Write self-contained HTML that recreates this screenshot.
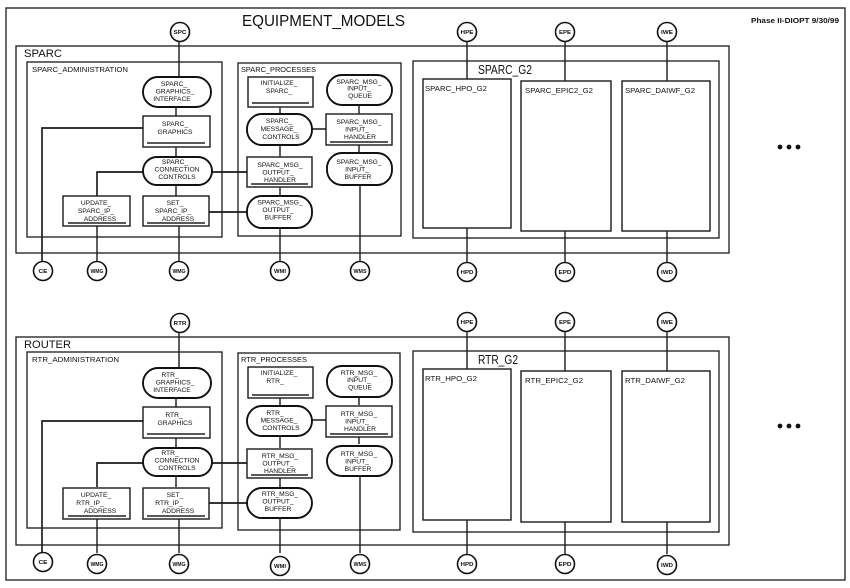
<!DOCTYPE html>
<html><head><meta charset="utf-8"><style>
html,body{margin:0;padding:0;background:#fff;}
svg{display:block;}
text{font-family:"Liberation Sans",Arial,sans-serif;fill:#111;}
.n{font-size:6.7px;text-anchor:middle;}
.c{font-size:5.8px;font-weight:bold;text-anchor:middle;}
.s{font-size:7.6px;}
.b{fill:none;stroke:#1a1a1a;stroke-width:1.3;}
.r{fill:#fff;stroke:#1a1a1a;stroke-width:1.4;}
.st{fill:#fff;stroke:#111;stroke-width:1.9;}
.l{stroke:#1a1a1a;stroke-width:1.4;fill:none;}
.sh{stroke:#222;stroke-width:1.4;}
.ci{fill:#fff;stroke:#111;stroke-width:1.6;}
</style></head><body>
<svg width="850" height="588" viewBox="0 0 850 588" xmlns="http://www.w3.org/2000/svg">
<rect x="0" y="0" width="850" height="588" fill="#fff"/>
<rect x="6" y="8" width="839" height="572" class="b"/>
<text x="242" y="26" font-size="16" textLength="163" lengthAdjust="spacingAndGlyphs">EQUIPMENT_MODELS</text>
<text x="751" y="23" font-size="7" font-weight="bold" textLength="88" lengthAdjust="spacingAndGlyphs">Phase II-DIOPT  9/30/99</text>

<!-- ================= SPARC ================= -->
<g>
<!-- connectors -->
<path class="l" d="M179 41 V77 M176 107 V116 M176 147 V157 M176 185 V196 M143 128 H42 V262 M143 172 H97 V196 M97 226 V262 M179 226 V262 M212 172 H247 M209 212 H247 M280 107 V114 M280 145 V157 M280 187 V196 M280 228 V262 M312 129 H326 M359 105 V114 M359 145 V153 M360 185 V262 M467 41 V79 M565 41 V81 M667 41 V81 M467 228 V263 M565 231 V263 M667 231 V263"/>
<rect x="16" y="46" width="713" height="207" class="b"/>
<text x="24" y="57" font-size="11" textLength="38" lengthAdjust="spacingAndGlyphs">SPARC</text>
<rect x="27" y="62" width="195" height="175" class="b"/>
<text x="32" y="72" class="s" textLength="96" lengthAdjust="spacingAndGlyphs">SPARC_ADMINISTRATION</text>
<rect x="238" y="63" width="163" height="173" class="b"/>
<text x="241" y="72" class="s" textLength="75" lengthAdjust="spacingAndGlyphs">SPARC_PROCESSES</text>
<rect x="413" y="61" width="306" height="177" class="b"/>
<text x="478" y="74" font-size="13" textLength="54" lengthAdjust="spacingAndGlyphs">SPARC_G2</text>
<rect x="423" y="79" width="88" height="149" class="r"/>
<text x="425" y="91" class="s" textLength="62" lengthAdjust="spacingAndGlyphs">SPARC_HPO_G2</text>
<rect x="521" y="81" width="90" height="150" class="r"/>
<text x="525" y="93" class="s" textLength="68" lengthAdjust="spacingAndGlyphs">SPARC_EPIC2_G2</text>
<rect x="622" y="81" width="88" height="150" class="r"/>
<text x="625" y="93" class="s" textLength="70" lengthAdjust="spacingAndGlyphs">SPARC_DAIWF_G2</text>
<path class="l" d="M212 172 H247 M209 212 H247 M143 128 H42 V262 M143 172 H97 V196"/>

<!-- nodes -->
<rect x="143" y="77" width="68" height="30" rx="15" class="st"/>
<text class="n" x="174" y="86">SPARC_</text><text class="n" x="175" y="93.5">GRAPHICS_</text><text class="n" x="172" y="101">INTERFACE</text>

<rect x="143" y="116" width="67" height="31" class="r"/>
<line class="sh" x1="147" y1="143" x2="205" y2="143"/>
<text class="n" x="175" y="126">SPARC_</text><text class="n" x="175" y="134">GRAPHICS</text>

<rect x="143" y="157" width="69" height="28" rx="14" class="st"/>
<text class="n" x="175" y="164">SPARC_</text><text class="n" x="177" y="171.5">CONNECTION</text><text class="n" x="177" y="179">CONTROLS</text>

<rect x="63" y="196" width="67" height="30" class="r"/>
<line class="sh" x1="68" y1="223" x2="126" y2="223"/>
<text class="n" x="96" y="205">UPDATE_</text><text class="n" x="96" y="213">SPARC_IP_</text><text class="n" x="100" y="221">ADDRESS</text>

<rect x="143" y="196" width="66" height="30" class="r"/>
<line class="sh" x1="147" y1="223" x2="205" y2="223"/>
<text class="n" x="175" y="205">SET_</text><text class="n" x="173" y="213">SPARC_IP_</text><text class="n" x="178" y="221">ADDRESS</text>

<rect x="248" y="77" width="65" height="30" class="r"/>
<line class="sh" x1="252" y1="103" x2="309" y2="103"/>
<text class="n" x="279" y="85">INITIALIZE_</text><text class="n" x="279" y="93">SPARC_</text>

<rect x="327" y="75" width="65" height="30" rx="15" class="st"/>
<text class="n" x="359" y="84">SPARC_MSG_</text><text class="n" x="359" y="90.5">INPUT_</text><text class="n" x="360" y="98">QUEUE</text>

<rect x="247" y="114" width="65" height="31" rx="15" class="st"/>
<text class="n" x="279" y="123">SPARC_</text><text class="n" x="279" y="131">MESSAGE_</text><text class="n" x="281" y="139">CONTROLS</text>

<rect x="326" y="114" width="66" height="31" class="r"/>
<line class="sh" x1="330" y1="142" x2="388" y2="142"/>
<text class="n" x="359" y="124">SPARC_MSG_</text><text class="n" x="357" y="131.5">INPUT_</text><text class="n" x="360" y="139">HANDLER</text>

<rect x="247" y="157" width="65" height="30" class="r"/>
<line class="sh" x1="251" y1="184" x2="308" y2="184"/>
<text class="n" x="280" y="167">SPARC_MSG_</text><text class="n" x="278" y="174.5">OUTPUT_</text><text class="n" x="280" y="182">HANDLER</text>

<rect x="327" y="153" width="65" height="32" rx="15" class="st"/>
<text class="n" x="359" y="164">SPARC_MSG_</text><text class="n" x="357" y="171.5">INPUT_</text><text class="n" x="358" y="179">BUFFER</text>

<rect x="247" y="196" width="65" height="32" rx="15" class="st"/>
<text class="n" x="280" y="204.5">SPARC_MSG_</text><text class="n" x="278" y="212">OUTPUT_</text><text class="n" x="278" y="219.5">BUFFER</text>

<!-- circles -->
<circle cx="180" cy="32" r="9.5" class="ci"/><text class="c" x="180" y="34" textLength="13" lengthAdjust="spacingAndGlyphs">SPC</text>
<circle cx="467" cy="32" r="9.5" class="ci"/><text class="c" x="467" y="34" textLength="13" lengthAdjust="spacingAndGlyphs">HPE</text>
<circle cx="565" cy="32" r="9.5" class="ci"/><text class="c" x="565" y="34" textLength="12" lengthAdjust="spacingAndGlyphs">EPE</text>
<circle cx="667" cy="32" r="9.5" class="ci"/><text class="c" x="667" y="34" textLength="12" lengthAdjust="spacingAndGlyphs">IWE</text>
<circle cx="43" cy="271" r="9.5" class="ci"/><text class="c" x="43" y="273" textLength="9" lengthAdjust="spacingAndGlyphs">CE</text>
<circle cx="97" cy="271" r="9.5" class="ci"/><text class="c" x="97" y="273" textLength="13" lengthAdjust="spacingAndGlyphs">WMG</text>
<circle cx="179" cy="271" r="9.5" class="ci"/><text class="c" x="179" y="273" textLength="13" lengthAdjust="spacingAndGlyphs">WMG</text>
<circle cx="280" cy="271" r="9.5" class="ci"/><text class="c" x="280" y="273" textLength="12" lengthAdjust="spacingAndGlyphs">WMI</text>
<circle cx="360" cy="271" r="9.5" class="ci"/><text class="c" x="360" y="273" textLength="13" lengthAdjust="spacingAndGlyphs">WMS</text>
<circle cx="467" cy="272" r="9.5" class="ci"/><text class="c" x="467" y="274" textLength="13" lengthAdjust="spacingAndGlyphs">HPD</text>
<circle cx="565" cy="272" r="9.5" class="ci"/><text class="c" x="565" y="274" textLength="13" lengthAdjust="spacingAndGlyphs">EPD</text>
<circle cx="667" cy="272" r="9.5" class="ci"/><text class="c" x="667" y="274" textLength="12" lengthAdjust="spacingAndGlyphs">IWD</text>

<circle cx="780" cy="147" r="2.4" fill="#111"/><circle cx="789" cy="147" r="2.4" fill="#111"/><circle cx="798" cy="147" r="2.4" fill="#111"/>
</g>

<!-- ================= ROUTER ================= -->
<g transform="translate(0,291)">
<path class="l" d="M179 41 V77 M176 107 V116 M176 147 V157 M176 185 V196 M143 130 H42 V262 M143 172 H97 V196 M97 226 V262 M179 226 V262 M212 172 H247 M209 212 H247 M280 107 V114 M280 145 V157 M280 187 V196 M280 228 V262 M312 129 H326 M359 105 V114 M359 145 V153 M360 185 V262 M467 41 V79 M565 41 V81 M667 41 V81 M467 228 V263 M565 231 V263 M667 231 V263"/>
<rect x="16" y="46" width="713" height="208" class="b"/>
<text x="24" y="57" font-size="11" textLength="47" lengthAdjust="spacingAndGlyphs">ROUTER</text>
<rect x="27" y="61" width="195" height="176" class="b"/>
<text x="32" y="71" class="s" textLength="87" lengthAdjust="spacingAndGlyphs">RTR_ADMINISTRATION</text>
<rect x="238" y="62" width="162" height="177" class="b"/>
<text x="241" y="71" class="s" textLength="66" lengthAdjust="spacingAndGlyphs">RTR_PROCESSES</text>
<rect x="413" y="60" width="306" height="181" class="b"/>
<text x="478" y="73" font-size="13" textLength="40" lengthAdjust="spacingAndGlyphs">RTR_G2</text>
<rect x="423" y="78" width="88" height="151" class="r"/>
<text x="425" y="90" class="s" textLength="52" lengthAdjust="spacingAndGlyphs">RTR_HPO_G2</text>
<rect x="521" y="80" width="90" height="151" class="r"/>
<text x="525" y="92" class="s" textLength="58" lengthAdjust="spacingAndGlyphs">RTR_EPIC2_G2</text>
<rect x="622" y="80" width="88" height="151" class="r"/>
<text x="625" y="92" class="s" textLength="60" lengthAdjust="spacingAndGlyphs">RTR_DAIWF_G2</text>
<path class="l" d="M212 172 H247 M209 212 H247 M143 130 H42 V262 M143 172 H97 V196"/>

<rect x="143" y="77" width="68" height="30" rx="15" class="st"/>
<text class="n" x="170" y="86">RTR_</text><text class="n" x="175" y="93.5">GRAPHICS_</text><text class="n" x="172" y="101">INTERFACE</text>

<rect x="143" y="116" width="67" height="31" class="r"/>
<line class="sh" x1="147" y1="143" x2="205" y2="143"/>
<text class="n" x="174" y="126">RTR_</text><text class="n" x="175" y="134">GRAPHICS</text>

<rect x="143" y="157" width="69" height="28" rx="14" class="st"/>
<text class="n" x="170" y="164">RTR_</text><text class="n" x="177" y="171.5">CONNECTION</text><text class="n" x="177" y="179">CONTROLS</text>

<rect x="63" y="197" width="67" height="31" class="r"/>
<line class="sh" x1="68" y1="225" x2="126" y2="225"/>
<text class="n" x="96" y="206">UPDATE_</text><text class="n" x="90" y="214">RTR_IP_</text><text class="n" x="100" y="222">ADDRESS</text>

<rect x="143" y="197" width="66" height="31" class="r"/>
<line class="sh" x1="147" y1="225" x2="205" y2="225"/>
<text class="n" x="175" y="206">SET_</text><text class="n" x="169" y="214">RTR_IP_</text><text class="n" x="178" y="222">ADDRESS</text>

<rect x="248" y="76" width="65" height="31" class="r"/>
<line class="sh" x1="252" y1="104" x2="309" y2="104"/>
<text class="n" x="279" y="84">INITIALIZE_</text><text class="n" x="275" y="92">RTR_</text>

<rect x="327" y="75" width="65" height="31" rx="15" class="st"/>
<text class="n" x="359" y="84">RTR_MSG_</text><text class="n" x="359" y="91">INPUT_</text><text class="n" x="360" y="98.5">QUEUE</text>

<rect x="247" y="115" width="65" height="30" rx="15" class="st"/>
<text class="n" x="275" y="124">RTR_</text><text class="n" x="279" y="131.5">MESSAGE_</text><text class="n" x="281" y="139">CONTROLS</text>

<rect x="326" y="115" width="66" height="31" class="r"/>
<line class="sh" x1="330" y1="143" x2="388" y2="143"/>
<text class="n" x="359" y="125">RTR_MSG_</text><text class="n" x="357" y="132.5">INPUT_</text><text class="n" x="360" y="140">HANDLER</text>

<rect x="247" y="158" width="65" height="29" class="r"/>
<line class="sh" x1="251" y1="184" x2="308" y2="184"/>
<text class="n" x="280" y="167">RTR_MSG_</text><text class="n" x="278" y="174.5">OUTPUT_</text><text class="n" x="280" y="182">HANDLER</text>

<rect x="327" y="155" width="65" height="30" rx="15" class="st"/>
<text class="n" x="359" y="165">RTR_MSG_</text><text class="n" x="357" y="172.5">INPUT_</text><text class="n" x="358" y="180">BUFFER</text>

<rect x="247" y="197" width="65" height="30" rx="15" class="st"/>
<text class="n" x="280" y="205">RTR_MSG_</text><text class="n" x="278" y="212.5">OUTPUT_</text><text class="n" x="278" y="220">BUFFER</text>

<circle cx="180" cy="32" r="9.5" class="ci"/><text class="c" x="180" y="34" textLength="13" lengthAdjust="spacingAndGlyphs">RTR</text>
<circle cx="467" cy="31" r="9.5" class="ci"/><text class="c" x="467" y="33" textLength="13" lengthAdjust="spacingAndGlyphs">HPE</text>
<circle cx="565" cy="31" r="9.5" class="ci"/><text class="c" x="565" y="33" textLength="12" lengthAdjust="spacingAndGlyphs">EPE</text>
<circle cx="667" cy="31" r="9.5" class="ci"/><text class="c" x="667" y="33" textLength="12" lengthAdjust="spacingAndGlyphs">IWE</text>
<circle cx="43" cy="271" r="9.5" class="ci"/><text class="c" x="43" y="273" textLength="9" lengthAdjust="spacingAndGlyphs">CE</text>
<circle cx="97" cy="273" r="9.5" class="ci"/><text class="c" x="97" y="275" textLength="13" lengthAdjust="spacingAndGlyphs">WMG</text>
<circle cx="179" cy="273" r="9.5" class="ci"/><text class="c" x="179" y="275" textLength="13" lengthAdjust="spacingAndGlyphs">WMG</text>
<circle cx="280" cy="275" r="9.5" class="ci"/><text class="c" x="280" y="277" textLength="12" lengthAdjust="spacingAndGlyphs">WMI</text>
<circle cx="360" cy="273" r="9.5" class="ci"/><text class="c" x="360" y="275" textLength="13" lengthAdjust="spacingAndGlyphs">WMS</text>
<circle cx="467" cy="273" r="9.5" class="ci"/><text class="c" x="467" y="275" textLength="13" lengthAdjust="spacingAndGlyphs">HPD</text>
<circle cx="565" cy="273" r="9.5" class="ci"/><text class="c" x="565" y="275" textLength="13" lengthAdjust="spacingAndGlyphs">EPD</text>
<circle cx="667" cy="274" r="9.5" class="ci"/><text class="c" x="667" y="276" textLength="12" lengthAdjust="spacingAndGlyphs">IWD</text>

<circle cx="780" cy="135" r="2.4" fill="#111"/><circle cx="789" cy="135" r="2.4" fill="#111"/><circle cx="798" cy="135" r="2.4" fill="#111"/>
</g>
</svg>
</body></html>
